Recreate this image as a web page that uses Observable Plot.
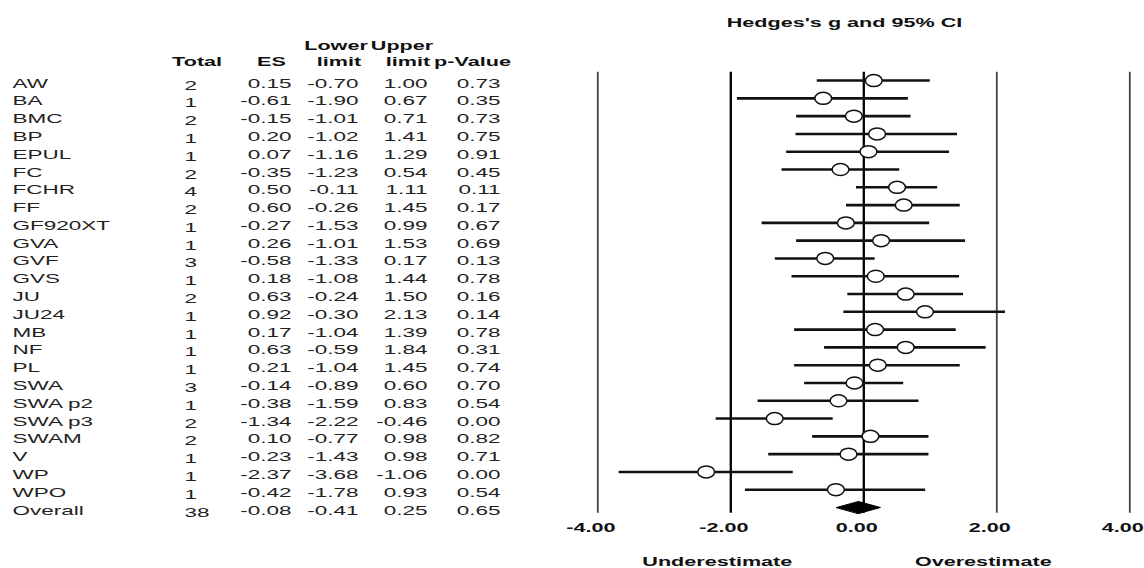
<!DOCTYPE html>
<html>
<head>
<meta charset="utf-8">
<script src="https://cdn.jsdelivr.net/npm/d3@7"></script>
<script src="https://cdn.jsdelivr.net/npm/@observablehq/plot@0.6"></script>
<style>
  body { margin: 0; background: #fff; }
  #chart svg { display: block; }
</style>
</head>
<body>
<div id="chart"></div>
<script>
// ---------------- data ----------------
const studies = ["AW","BA","BMC","BP","EPUL","FC","FCHR","FF","GF920XT","GVA","GVF","GVS","JU","JU24","MB","NF","PL","SWA","SWA p2","SWA p3","SWAM","V","WP","WPO"];
const totals  = [2,1,2,1,1,2,4,2,1,1,3,1,2,1,1,1,1,3,1,2,2,1,1,1];
const esValues = [0.15,-0.61,-0.15,0.20,0.07,-0.35,0.50,0.60,-0.27,0.26,-0.58,0.18,0.63,0.92,0.17,0.63,0.21,-0.14,-0.38,-1.34,0.10,-0.23,-2.37,-0.42];
const lowerLimits = [-0.70,-1.90,-1.01,-1.02,-1.16,-1.23,-0.11,-0.26,-1.53,-1.01,-1.33,-1.08,-0.24,-0.30,-1.04,-0.59,-1.04,-0.89,-1.59,-2.22,-0.77,-1.43,-3.68,-1.78];
const upperLimits = [1.00,0.67,0.71,1.41,1.29,0.54,1.11,1.45,0.99,1.53,0.17,1.44,1.50,2.13,1.39,1.84,1.45,0.60,0.83,-0.46,0.98,0.98,-1.06,0.93];
const pValues = [0.73,0.35,0.73,0.75,0.91,0.45,0.11,0.17,0.67,0.69,0.13,0.78,0.16,0.14,0.78,0.31,0.74,0.70,0.54,0.00,0.82,0.71,0.00,0.54];

const overallLabel = "Overall";
const overallTotal = 38;
const overallES = -0.08;
const overallLower = -0.41;
const overallUpper = 0.25;
const overallP = 0.65;

const tickValues = [-4, -2, 0, 2, 4];
const thinLines = [-4, 2, 4];
const boldLines = [-2, 0];
const titleText = "Hedges's g and 95% CI";
const bottomLabels = ["Underestimate", "Overestimate"];
const bottomLabelAt = [-2, 2];
const headerLine1 = ["Lower", "Upper"];
const headerLine2 = ["Total", "ES", "limit", "limit", "p-Value"];

// ---------------- tables built from the arrays ----------------
const rows = studies.map((name, i) => ({
  name, i, total: totals[i], es: esValues[i], lower: lowerLimits[i], upper: upperLimits[i], p: pValues[i]
}));
const overallRow = {name: overallLabel, i: studies.length, total: overallTotal, es: overallES, lower: overallLower, upper: overallUpper, p: overallP};
const allRows = [...rows, overallRow];

const DIAMOND_HALF = 0.34; // half height in rows (style)
const diamond = [
  {x: overallLower, y: overallRow.i},
  {x: overallES, y: overallRow.i - DIAMOND_HALF},
  {x: overallUpper, y: overallRow.i},
  {x: overallES, y: overallRow.i + DIAMOND_HALF}
];

// ---------------- layout ----------------
const W = 1144, H = 568;
const ML = 597.3, MR = 14.7, MT = 71.7, MB = 55.3;
const SX = 1.8; // horizontal text stretch seen in the reference
const FONT = "Liberation Sans, Arial, Helvetica, sans-serif";

const fmt2 = v => v.toFixed(2);
const columns = [
  {key: "name",  at: 12,  anchor: "start", dy: 3, f: v => v},
  {key: "total", at: 184, anchor: "start", dy: 5, f: v => String(v)},
  {key: "es",    at: 291, anchor: "end",   dy: 3, f: fmt2},
  {key: "lower", at: 358, anchor: "end",   dy: 3, f: fmt2},
  {key: "upper", at: 427, anchor: "end",   dy: 3, f: fmt2},
  {key: "p",     at: 500, anchor: "end",   dy: 3, f: fmt2}
];
const header1At = [335.5, 401.5];
const header2At = [196.6, 271, 338.5, 407.5, 472];

const ellipse = {
  draw(context, size) {
    const r = Math.sqrt(size / Math.PI);
    const rx = r * 1.4, ry = r, k = 0.5522847498;
    context.moveTo(rx, 0);
    context.bezierCurveTo(rx, ry * k, rx * k, ry, 0, ry);
    context.bezierCurveTo(-rx * k, ry, -rx, ry * k, -rx, 0);
    context.bezierCurveTo(-rx, -ry * k, -rx * k, -ry, 0, -ry);
    context.bezierCurveTo(rx * k, -ry, rx, -ry * k, rx, 0);
    context.closePath();
  }
};

const marks = [];

// vertical reference lines
marks.push(Plot.ruleX(thinLines, {stroke: "#444", strokeWidth: 1.8}));
marks.push(Plot.ruleX(boldLines, {stroke: "#000", strokeWidth: 2.3}));

// confidence intervals
marks.push(Plot.ruleY(rows, {y: "i", x1: "lower", x2: "upper", stroke: "#111", strokeWidth: 2.6}));

// overall diamond
marks.push(Plot.line(diamond, {x: "x", y: "y", fill: "#000", stroke: "#000", strokeWidth: 1, curve: "linear-closed"}));

// effect size markers
marks.push(Plot.dot(rows, {x: "es", y: "i", r: 6, symbol: ellipse, fill: "white", stroke: "#111", strokeWidth: 1.5}));

// table body
for (const c of columns) {
  marks.push(Plot.text(allRows, {
    y: "i", text: d => c.f(d[c.key]), frameAnchor: "left", textAnchor: c.anchor, lineAnchor: "middle",
    dx: c.at - ML, dy: c.dy, fontSize: 12.5, fill: "#222"
  }));
}

// table headers
headerLine1.forEach((w, j) => marks.push(Plot.text([w], {
  text: d => d, frameAnchor: "top-left", textAnchor: "middle", lineAnchor: "middle",
  dx: header1At[j] - ML, dy: 45.5 - MT, fontSize: 12, fontWeight: "bold", fill: "#111"
})));
headerLine2.forEach((w, j) => marks.push(Plot.text([w], {
  text: d => d, frameAnchor: "top-left", textAnchor: "middle", lineAnchor: "middle",
  dx: header2At[j] - ML, dy: 61.8 - MT, fontSize: 12, fontWeight: "bold", fill: "#111"
})));

// title
marks.push(Plot.text([titleText], {
  text: d => d, frameAnchor: "top", textAnchor: "middle", lineAnchor: "middle",
  dx: -19.3, dy: 22.3 - MT, fontSize: 12, fontWeight: "bold", fill: "#111"
}));

// axis
marks.push(Plot.axisX({
  ticks: tickValues, tickSize: 0, tickPadding: 10.6, tickFormat: fmt2, label: null,
  fontSize: 12, fontWeight: "bold", dx: -7, fill: "#111"
}));

// bottom labels
marks.push(Plot.text(bottomLabels, {
  x: bottomLabelAt, text: d => d, frameAnchor: "bottom", textAnchor: "middle", lineAnchor: "middle",
  dx: -13.5, dy: 48.6, fontSize: 12, fontWeight: "bold", fill: "#111"
}));

const svg = Plot.plot({
  width: W, height: H,
  marginLeft: ML, marginRight: MR, marginTop: MT, marginBottom: MB,
  style: {fontFamily: FONT, background: "white", overflow: "visible"},
  x: {domain: [-4, 4], axis: null, label: null},
  y: {domain: [-0.47, 24.32], reverse: true, axis: null, label: null},
  marks
});

// stretch text horizontally around its anchor, as in the reference
d3.select(svg).selectAll("text").each(function () {
  const t = this.getAttribute("transform");
  if (t) {
    this.setAttribute("transform", t + ` scale(${SX},1)`);
  } else {
    const x = +this.getAttribute("x") || 0;
    this.setAttribute("transform", `translate(${x},0) scale(${SX},1) translate(${-x},0)`);
  }
});

document.getElementById("chart").appendChild(svg);
</script>
</body>
</html>
